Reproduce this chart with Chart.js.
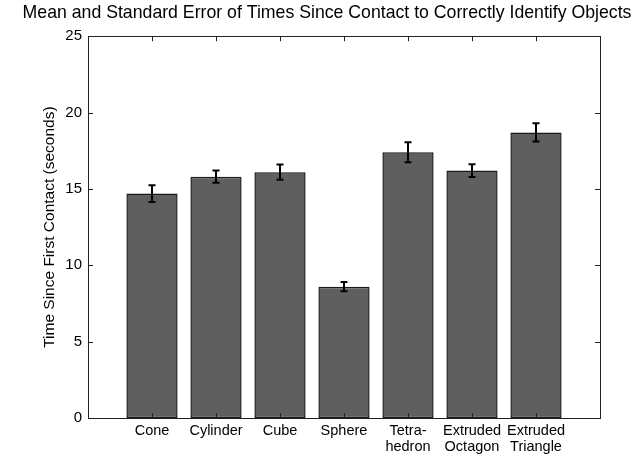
<!DOCTYPE html>
<html>
<head>
<meta charset="utf-8">
<script src="https://cdn.jsdelivr.net/npm/chart.js@4.4.1/dist/chart.umd.min.js"></script>
<style>
  html, body { margin: 0; padding: 0; background: #fff; }
  #wrap { width: 638px; height: 455px; }
</style>
</head>
<body>
<div id="wrap"><canvas id="chart"></canvas></div>
<script>
// empty slots at both ends so the x range runs 0..8 like the original
const categories = ['', 'Cone', 'Cylinder', 'Cube', 'Sphere', ['Tetra-', 'hedron'],
  ['Extruded', 'Octagon'], ['Extruded', 'Triangle'], ''];
const meanTimes = [null, 14.7, 15.8, 16.1, 8.6, 17.4, 16.2, 18.7, null];
const stdErrors = [null, 0.55, 0.4, 0.5, 0.3, 0.65, 0.42, 0.6, null];
const yTicks = [0, 5, 10, 15, 20, 25];

const FONT = "'Liberation Sans', Arial, Helvetica, sans-serif";

// matlab-like box with inward ticks plus the error bars
const boxAndErrors = {
  id: 'boxAndErrors',
  afterDatasetsDraw(chart) {
    const { ctx, chartArea: a, scales: { x, y } } = chart;
    ctx.save();

    // error bars
    ctx.strokeStyle = '#000';
    ctx.lineWidth = 2;
    meanTimes.forEach((m, i) => {
      if (m == null) return;
      const px = x.getPixelForValue(i);
      const top = y.getPixelForValue(m + stdErrors[i]);
      const bot = y.getPixelForValue(m - stdErrors[i]);
      ctx.beginPath();
      ctx.moveTo(px, top); ctx.lineTo(px, bot);
      ctx.moveTo(px - 3.5, top); ctx.lineTo(px + 3.5, top);
      ctx.moveTo(px - 3.5, bot); ctx.lineTo(px + 3.5, bot);
      ctx.stroke();
    });

    // box
    ctx.strokeStyle = '#222';
    ctx.lineWidth = 1;
    ctx.strokeRect(Math.round(a.left) + 0.5, Math.round(a.top) + 0.5,
      Math.round(a.right - a.left), Math.round(a.bottom - a.top));

    // inward ticks
    const t = 5;
    ctx.beginPath();
    for (let i = 1; i < categories.length - 1; i++) {
      const px = Math.round(x.getPixelForValue(i)) + 0.5;
      ctx.moveTo(px, a.bottom); ctx.lineTo(px, a.bottom - t);
      ctx.moveTo(px, a.top); ctx.lineTo(px, a.top + t);
    }
    yTicks.forEach(v => {
      const py = Math.round(y.getPixelForValue(v)) + 0.5;
      ctx.moveTo(a.left, py); ctx.lineTo(a.left + t, py);
      ctx.moveTo(a.right, py); ctx.lineTo(a.right - t, py);
    });
    ctx.stroke();
    ctx.restore();
  }
};

new Chart(document.getElementById('chart'), {
  type: 'bar',
  data: {
    labels: categories,
    datasets: [{
      label: 'Mean time',
      data: meanTimes,
      backgroundColor: '#5f5f5f',
      borderColor: '#1a1a1a',
      borderWidth: 1.5,
      borderSkipped: false,
      inflateAmount: 0,
      barPercentage: 0.8,
      categoryPercentage: 1
    }]
  },
  options: {
    responsive: true,
    maintainAspectRatio: false,
    animation: false,
    layout: { padding: { left: 16, right: 0, top: 0, bottom: 0 } },
    plugins: {
      legend: { display: false },
      tooltip: { enabled: false },
      title: {
        display: true,
        text: 'Mean and Standard Error of Times Since Contact to Correctly Identify Objects',
        color: '#000',
        font: { family: FONT, size: 17.7, weight: 'normal' },
        padding: { top: 2, bottom: 13 }
      }
    },
    scales: {
      x: {
        offset: false,
        grid: { display: false, drawTicks: false },
        border: { display: false },
        ticks: {
          color: '#000',
          font: { family: FONT, size: 14.5, lineHeight: 1.1 },
          padding: 5,
          maxRotation: 0,
          autoSkip: false
        },
        afterFit(s) { s.height = 37; }
      },
      y: {
        min: 0,
        max: 25,
        grid: { display: false, drawTicks: false },
        border: { display: false },
        afterBuildTicks(s) { s.ticks = yTicks.map(v => ({ value: v })); },
        ticks: {
          color: '#000',
          font: { family: FONT, size: 15 },
          padding: 6
        },
        title: {
          display: true,
          text: 'Time Since First Contact (seconds)',
          color: '#000',
          font: { family: FONT, size: 15.5 },
          padding: { top: 24, bottom: 0 }
        },
        afterFit(s) { s.width = 72; }
      },
      // empty right axis, only keeps the right margin
      yRight: {
        position: 'right',
        min: 0,
        max: 25,
        grid: { display: false, drawTicks: false },
        border: { display: false },
        ticks: { display: false },
        afterFit(s) { s.width = 38; }
      }
    }
  },
  plugins: [boxAndErrors]
});
</script>
</body>
</html>
